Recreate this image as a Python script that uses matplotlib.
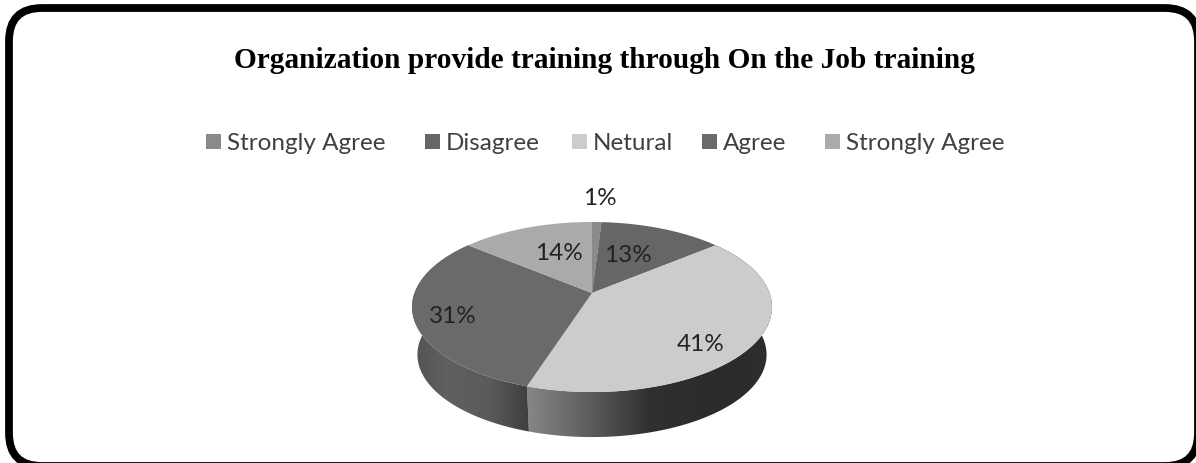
import numpy as np
import matplotlib
matplotlib.use("Agg")
import matplotlib.pyplot as plt
from matplotlib.colors import LinearSegmentedColormap
from matplotlib.patches import FancyBboxPatch, Polygon, Rectangle

# Antworten und Anteile in Prozent
labels = ["Strongly Agree", "Disagree", "Netural", "Agree", "Strongly Agree"]
werte = [1, 13, 41, 31, 14]
farben = ["#8a8a8a", "#666666", "#cccccc", "#6a6a6a", "#aaaaaa"]
titel = "Organization provide training through On the Job training"

# Layout in Pixeln
legende_x = [206, 425, 572, 702, 825]
label_pos = [(600, 199), (628, 255), (701, 345), (453, 317), (559, 254)]
cx, cy = 592, 294
ax_r, by_r, k = 177.5, 82.7, 0.165
tiefe_s, tiefe_y = 0.97, 342

# Verlauf der Seitenflaechen
verlauf = {
    2: ["#8c8c8c", "#606060", "#303030", "#2b2b2b", "#2e2e2e"],
    3: ["#505050", "#606060", "#5a5a5a", "#3a3a3a"],
}


def projektion(theta, s=1.0, y0=cy):
    # Kreis im Uhrzeigersinn ab 12 Uhr, geneigt mit Perspektive
    u, v = np.sin(theta), np.cos(theta)
    d = 1 + k * v
    return cx + s * ax_r * u / d, y0 - s * by_r * v / d


fig = plt.figure(figsize=(11.96, 4.64), dpi=100)
ax = fig.add_axes([0, 0, 1, 1])
ax.set_xlim(0, 1196)
ax.set_ylim(464, 0)
ax.axis("off")

rahmen = FancyBboxPatch((9, 9), 1189, 458, boxstyle="round,pad=0,rounding_size=33",
                        fc="white", ec="black", lw=5.6, clip_on=True)
ax.add_patch(rahmen)

ax.text(604, 60, titel, family="Liberation Serif", weight="bold", fontsize=21.2,
        ha="center", va="center", color="black")

# Legende
for x, lab, f in zip(legende_x, labels, farben):
    ax.add_patch(Rectangle((x, 135), 15, 15, fc=f, ec="none"))
    ax.text(x + 21, 144, lab, family="Lato", fontsize=17.5, ha="left", va="center",
            color="#404040")

winkel = np.cumsum([0] + werte) / sum(werte) * 2 * np.pi

# Seitenflaechen zuerst, Oberseite liegt darueber
for i, stops in verlauf.items():
    t = np.linspace(winkel[i], winkel[i + 1], 150)
    x1, y1 = projektion(t)
    x2, y2 = projektion(t[::-1], tiefe_s, tiefe_y)
    poly = Polygon(np.column_stack([np.r_[x1, x2], np.r_[y1, y2]]), closed=True,
                   fc="none", ec="none")
    ax.add_patch(poly)
    # nur unterer Teil sichtbar, Verlauf ueber dessen Breite
    x_min = x1[y1 > 300].min() if i == 3 else x1[y1 > 380].min()
    x_max = x1[y1 > 300].max()
    cmap = LinearSegmentedColormap.from_list("seite", stops)
    bild = ax.imshow(np.linspace(0, 1, 256)[None, :], cmap=cmap, aspect="auto",
                     extent=(x_min - 8, x_max + 8, 450, 200), zorder=2)
    bild.set_clip_path(poly)

ax.set_xlim(0, 1196)
ax.set_ylim(464, 0)

# Oberseite
for i, f in enumerate(farben):
    t = np.linspace(winkel[i], winkel[i + 1], 200)
    x, y = projektion(t)
    ax.add_patch(Polygon(np.column_stack([np.r_[cx, x], np.r_[cy, y]]), closed=True,
                         fc=f, ec="none", zorder=3))

# Prozentwerte
for w, (x, y) in zip(werte, label_pos):
    ax.text(x, y, f"{w}%", family="Lato", fontsize=17.5, ha="center", va="center",
            color="#222222", zorder=4)

fig.savefig("out.png", dpi=100)
